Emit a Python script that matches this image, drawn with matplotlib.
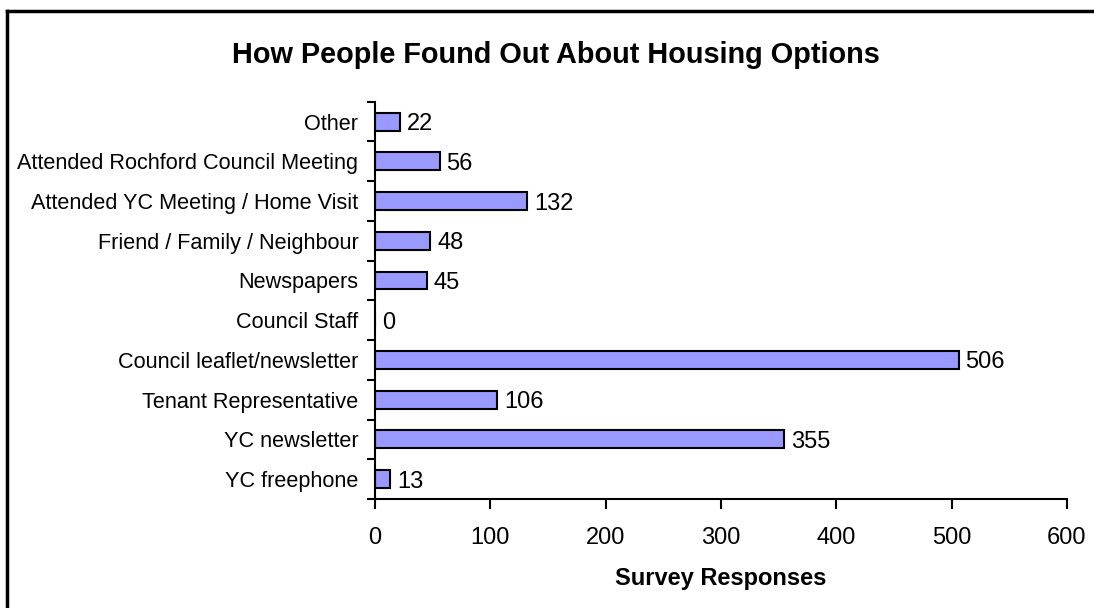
import matplotlib
matplotlib.use("Agg")
import matplotlib.pyplot as plt
from matplotlib.lines import Line2D

plt.rcParams['font.family'] = ['Liberation Sans', 'DejaVu Sans']

categories = ["YC freephone", "YC newsletter", "Tenant Representative",
              "Council leaflet/newsletter", "Council Staff", "Newspapers",
              "Friend / Family / Neighbour", "Attended YC Meeting / Home Visit",
              "Attended Rochford Council Meeting", "Other"]
values = [13, 355, 106, 506, 0, 45, 48, 132, 56, 22]
xticks = [0, 100, 200, 300, 400, 500, 600]

W, H = 1094, 608
fig = plt.figure(figsize=(W/100, H/100), dpi=100)
ax = fig.add_axes([375/W, 1 - 499/H, (1067-375)/W, (499-101.7)/H])

pos = list(range(len(categories)))
ax.barh(pos, values, height=0.45, color='#9999FF', edgecolor='black', linewidth=1.5)
for p, v in zip(pos, values):
    ax.text(v + 6, p, str(v), va='center_baseline', ha='left', fontsize=17)

ax.set_xlim(0, 600)
ax.set_ylim(-0.5, len(categories) - 0.5)
ax.set_xticks(xticks)
ax.set_xticklabels([str(t) for t in xticks], fontsize=17)
ax.set_yticks(pos)
ax.set_yticklabels(categories, fontsize=15.6)
ax.set_yticks([p - 0.5 for p in pos] + [len(categories) - 0.5], minor=True)
ax.tick_params(axis='y', which='major', length=0, pad=12)
ax.tick_params(axis='y', which='minor', length=6, width=1.5, direction='out')
ax.tick_params(axis='x', length=7, width=1.5, direction='out', pad=13)
for s in ['top', 'right']:
    ax.spines[s].set_visible(False)
for s in ['left', 'bottom']:
    ax.spines[s].set_linewidth(1.5)
ax.set_xlabel("Survey Responses", fontsize=17, fontweight='bold', labelpad=13)

fig.text(556/W, 1 - 55/H, "How People Found Out About Housing Options",
         ha='center', va='center', fontsize=20.8, fontweight='bold')

fig.add_artist(Line2D([7/W, 7/W], [0, 1 - 11/H], color='black', linewidth=2.5,
                      transform=fig.transFigure))
fig.add_artist(Line2D([7/W, 1], [1 - 11/H, 1 - 11/H], color='black', linewidth=2.5,
                      transform=fig.transFigure))

fig.savefig("out.png", dpi=100)
